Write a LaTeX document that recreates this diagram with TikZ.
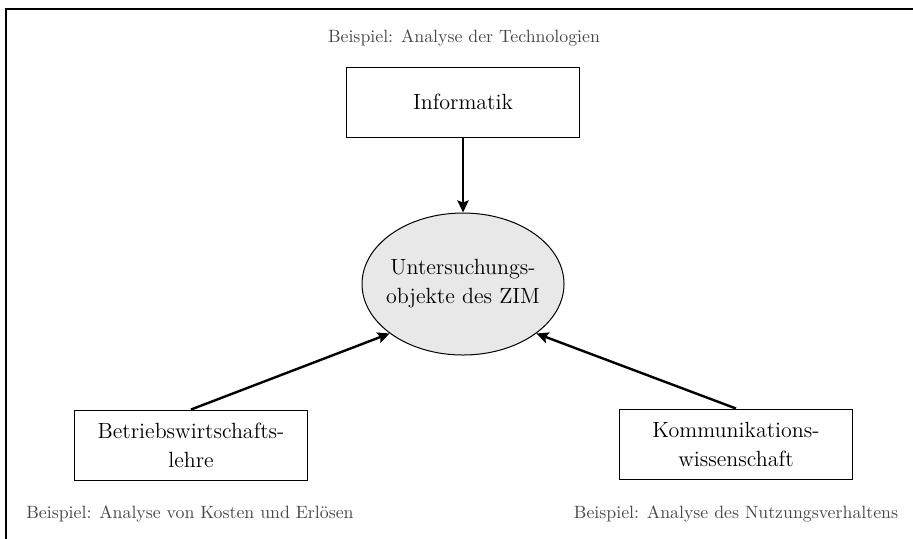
\documentclass[tikz,border=0pt]{standalone}
\usepackage{fontspec}
\usepackage{tikz}
\usetikzlibrary{arrows.meta, shapes.geometric}
\newfontfamily\bspfont{lmroman10-regular.otf}

\begin{document}
\begin{tikzpicture}[x=0.5pt, y=-0.5pt,
  box/.style = {draw, line width=0.5pt, minimum width=116.5pt, minimum height=35pt, align=center, font=\fontsize{11}{14.5}\selectfont},
  bsp/.style = {text=black!72, anchor=base, font=\bspfont\fontsize{8.9}{11}\selectfont},
  pfeil/.style = {line width=1.2pt, -{Stealth[length=6pt, width=5.5pt, inset=1pt]}}]
\clip (0,0) rectangle (913,538);
\draw[line width=1pt] (6,9) rectangle (940,570);
\node[bsp] (bsp1) at (464,42) {Beispiel: Analyse der Technologien};
\node[box] (inf) at (463,102) {Informatik};
\node[draw, ellipse, fill=black!9, line width=0.5pt, inner xsep=-3pt, inner ysep=0pt, minimum width=101pt, minimum height=71pt, align=center, font=\fontsize{11}{14.5}\selectfont] (zim) at (463,284) {Untersuchungs-\\objekte des ZIM};
\node[box] (bwl) at (191,445) {Betriebswirtschafts-\\lehre};
\node[box] (kw) at (736,444) {Kommunikations-\\wissenschaft};
\node[bsp] (bsp2) at (190,518) {Beispiel: Analyse von Kosten und Erl\"osen};
\node[bsp] (bsp3) at (736,518) {Beispiel: Analyse des Nutzungsverhaltens};
\draw[pfeil] (inf) -- (zim);
\draw[pfeil] (bwl.north) -- (zim.214);
\draw[pfeil] (kw.north) -- (zim.326);
\end{tikzpicture}
\end{document}
